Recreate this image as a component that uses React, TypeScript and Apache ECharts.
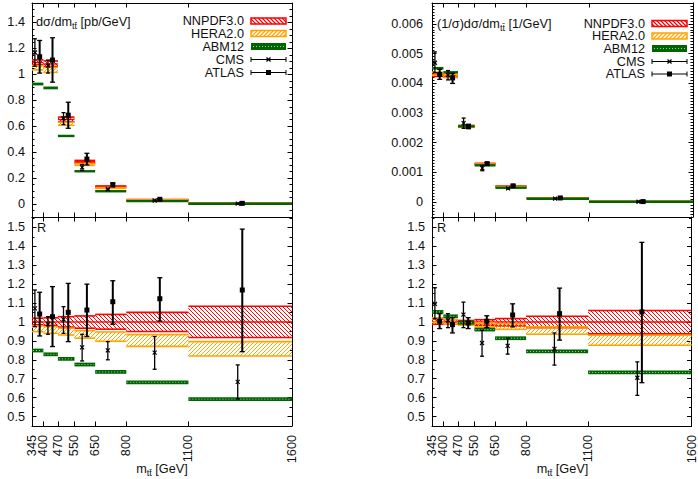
import React, { useEffect, useRef } from 'react';
import * as echarts from 'echarts';

const FONT = "'Liberation Sans', Arial, Helvetica, sans-serif";
const FS = 12.7;

// ---------- data ----------
const binEdges = [345, 400, 470, 550, 650, 800, 1100, 1600];
const xTickLabels = [345, 400, 470, 550, 650, 800, 1100, 1600];
const cmsMass = [359, 422, 497, 587, 711, 937, 1338];
const atlasMass = [382, 444, 520, 610, 735, 962, 1360];

const yTicksAbs = [0, 0.2, 0.4, 0.6, 0.8, 1, 1.2, 1.4];
const yTicksNorm = [0, 0.001, 0.002, 0.003, 0.004, 0.005, 0.006];
const yTicksRatio = [0.5, 0.6, 0.7, 0.8, 0.9, 1, 1.1, 1.2, 1.3, 1.4, 1.5];

// left column: dσ/dm [pb/GeV]; NNPDF3.0 central values, everything else as ratio R
const absCentral = [1.09, 1.08, 0.652, 0.326, 0.134, 0.0325, 0.0045];
const absNnpdfLo = [0.985, 0.982, 0.973, 0.967, 0.962, 0.95, 0.918];
const absNnpdfHi = [1.02, 1.022, 1.028, 1.032, 1.04, 1.051, 1.083];
const absHeraLo = [0.949, 0.94, 0.931, 0.914, 0.898, 0.871, 0.82];
const absHeraHi = [0.979, 0.975, 0.967, 0.954, 0.947, 0.933, 0.896];
const absAbmLo = [0.839, 0.819, 0.795, 0.765, 0.726, 0.671, 0.582];
const absAbmHi = [0.859, 0.839, 0.815, 0.785, 0.746, 0.691, 0.602];
const absCms = [1.072, 0.988, 1.014, 0.866, 0.85, 0.838, 0.683];
const absCmsLo = [0.975, 0.935, 0.94, 0.794, 0.8, 0.75, 0.593];
const absCmsHi = [1.169, 1.028, 1.081, 0.935, 0.896, 0.923, 0.773];
const absAtlas = [1.042, 1.028, 1.051, 1.063, 1.107, 1.123, 1.169];
const absAtlasLo = [0.926, 0.87, 0.896, 0.923, 0.988, 1.005, 0.843];
const absAtlasHi = [1.157, 1.187, 1.204, 1.2, 1.218, 1.234, 1.491];

// right column: (1/σ)dσ/dm [1/GeV]
const normCentral = [0.00428, 0.00424, 0.00256, 0.00129, 0.00053, 0.000135, 0.000018];
const normNnpdfLo = [0.988, 0.99, 0.992, 0.983, 0.979, 0.97, 0.937];
const normNnpdfHi = [1.016, 1.012, 1.008, 1.012, 1.018, 1.03, 1.061];
const normHeraLo = [0.998, 0.99, 0.983, 0.974, 0.961, 0.935, 0.877];
const normHeraHi = [1.022, 1.012, 1.001, 0.995, 0.991, 0.974, 0.93];
const normAbmLo = [1.043, 1.02, 0.986, 0.95, 0.904, 0.834, 0.723];
const normAbmHi = [1.063, 1.04, 1.006, 0.97, 0.924, 0.854, 0.743];
const normCms = [1.096, 1.009, 1.039, 0.889, 0.874, 0.858, 0.705];
const normCmsLo = [1.018, 0.97, 0.97, 0.819, 0.83, 0.772, 0.612];
const normCmsHi = [1.181, 1.044, 1.105, 0.956, 0.914, 0.942, 0.789];
const normAtlas = [1.004, 0.986, 0.995, 1.004, 1.037, 1.044, 1.053];
const normAtlasLo = [0.965, 0.942, 0.965, 0.97, 0.974, 0.904, 0.679];
const normAtlasHi = [1.044, 1.023, 1.023, 1.033, 1.096, 1.179, 1.421];

// ---------- styles ----------
const RED = '#ff0000';
const ORANGE = '#ffa500';
const GREEN = '#006400';
const GREEN_DOT = '#9fd49f';

function hatch(x0: number, y0: number, x1: number, y1: number, dir: number, s: number) {
  const segs: number[][] = [];
  if (x1 - x0 < 0.5 || y1 - y0 < 0.5) return segs;
  if (dir > 0) {
    const cMin = y0 - x1, cMax = y1 - x0;
    for (let k = Math.ceil(cMin / s); k * s <= cMax; k++) {
      const c = k * s;
      const xa = Math.max(x0, y0 - c), xb = Math.min(x1, y1 - c);
      if (xb > xa) segs.push([xa, xa + c, xb, xb + c]);
    }
  } else {
    const cMin = x0 + y0, cMax = x1 + y1;
    for (let k = Math.ceil(cMin / s); k * s <= cMax; k++) {
      const c = k * s;
      const xa = Math.max(x0, c - y1), xb = Math.min(x1, c - y0);
      if (xb > xa) segs.push([xa, c - xa, xb, c - xb]);
    }
  }
  return segs;
}

function hline(x1: number, x2: number, y: number, color: string, w: number, extra: any = {}) {
  return { type: 'line', shape: { x1, y1: y, x2, y2: y }, style: { stroke: color, lineWidth: w, ...extra } };
}

function bandRender(kind: string) {
  return (params: any, api: any) => {
    const x0 = api.value(0), x1 = api.value(1), lo = api.value(2), hi = api.value(3), mid = api.value(4);
    const pA = api.coord([x0, hi]);
    const pB = api.coord([x1, lo]);
    const px0 = pA[0], px1 = pB[0];
    let top = pA[1], bot = pB[1];
    const children: any[] = [];
    if (kind === 'abm') {
      if (bot - top < 2.4) {
        const c = (top + bot) / 2;
        top = c - 1.2; bot = c + 1.2;
      }
      children.push({ type: 'rect', shape: { x: px0, y: top, width: px1 - px0, height: bot - top }, style: { fill: GREEN } });
      if (bot - top > 3) children.push(hline(px0 + 1, px1 - 1, (top + bot) / 2, GREEN_DOT, 1, { lineDash: [1, 2] }));
      return { type: 'group', children };
    }
    const color = kind === 'nnpdf' ? RED : ORANGE;
    const dir = kind === 'nnpdf' ? 1 : -1;
    hatch(px0, top, px1, bot, dir, 4).forEach((s) => {
      children.push({ type: 'line', shape: { x1: s[0], y1: s[1], x2: s[2], y2: s[3] }, style: { stroke: color, lineWidth: 1 } });
    });
    children.push(hline(px0, px1, top, color, 1.6));
    children.push(hline(px0, px1, bot, color, 1.6));
    if (kind === 'nnpdf') {
      const pm = api.coord([x0, mid]);
      children.push(hline(px0, px1, pm[1], color, 1.4));
    }
    return { type: 'group', children };
  };
}

function cmsMarker(x: number, y: number) {
  return [
    { type: 'line', shape: { x1: x - 2, y1: y - 2, x2: x + 2, y2: y + 2 }, style: { stroke: '#000', lineWidth: 1.2 } },
    { type: 'line', shape: { x1: x - 2, y1: y + 2, x2: x + 2, y2: y - 2 }, style: { stroke: '#000', lineWidth: 1.2 } },
  ];
}
function atlasMarker(x: number, y: number) {
  return [{ type: 'rect', shape: { x: x - 2.5, y: y - 2.5, width: 5, height: 5 }, style: { fill: '#000' } }];
}

function pointRender(kind: string) {
  return (params: any, api: any) => {
    const x = api.value(0), y = api.value(1), lo = api.value(2), hi = api.value(3);
    const p = api.coord([x, y]);
    const pl = api.coord([x, lo]);
    const ph = api.coord([x, hi]);
    const w = kind === 'atlas' ? 2 : 1.3;
    const cap = kind === 'atlas' ? 2.5 : 2;
    const children: any[] = [
      { type: 'line', shape: { x1: p[0], y1: pl[1], x2: p[0], y2: ph[1] }, style: { stroke: '#000', lineWidth: w } },
      hline(p[0] - cap, p[0] + cap, pl[1], '#000', 1.3),
      hline(p[0] - cap, p[0] + cap, ph[1], '#000', 1.3),
      ...(kind === 'atlas' ? atlasMarker(p[0], p[1]) : cmsMarker(p[0], p[1])),
    ];
    return { type: 'group', children };
  };
}

function bandData(lo: number[], hi: number[], scale: number[] | null) {
  return lo.map((l, i) => {
    const s = scale ? scale[i] : 1;
    return [binEdges[i], binEdges[i + 1], l * s, hi[i] * s, s];
  });
}
function pointData(mass: number[], v: number[], lo: number[], hi: number[], scale: number[] | null) {
  return mass.map((m, i) => {
    const s = scale ? scale[i] : 1;
    return [m, v[i] * s, lo[i] * s, hi[i] * s];
  });
}

function steps(min: number, max: number, step: number) {
  const out: number[] = [];
  const k0 = Math.ceil(min / step - 1e-9);
  for (let k = k0; k * step <= max + 1e-12; k++) out.push(Math.round(k * step * 1e8) / 1e8);
  return out;
}

function buildOption() {
  const L = 32, W = 260, R0 = 432, RW = 261;
  const panels = [
    { grid: { left: L, top: 3, width: W, height: 214 }, ymin: -0.1, ymax: 1.55, majors: yTicksAbs, minor: 0.05, margin: 7, bottomLabels: false,
      scale: absCentral, d: 'abs' },
    { grid: { left: L, top: 217, width: W, height: 209 }, ymin: 0.45, ymax: 1.555, majors: yTicksRatio, minor: 0.05, margin: 7, bottomLabels: true,
      scale: null, d: 'abs' },
    { grid: { left: R0, top: 3, width: RW, height: 214 }, ymin: -0.0005, ymax: 0.0067, majors: yTicksNorm, minor: 0.0001, margin: 9, bottomLabels: false,
      scale: normCentral, d: 'norm' },
    { grid: { left: R0, top: 217, width: RW, height: 209 }, ymin: 0.45, ymax: 1.555, majors: yTicksRatio, minor: 0.05, margin: 7, bottomLabels: true,
      scale: null, d: 'norm' },
  ];

  const grids: any[] = [];
  const xAxes: any[] = [];
  const extraX: any[] = [];
  const yAxes: any[] = [];
  const series: any[] = [];

  const axisLine = { show: true, onZero: false, lineStyle: { color: '#000', width: 1 } };
  const xLabelStyle = {
    rotate: 90, margin: 9, color: '#111', fontSize: FS, fontFamily: FONT,
    showMinLabel: true, showMaxLabel: true, hideOverlap: false,
    formatter: (v: number) => String(v),
  };

  panels.forEach((p, i) => {
    grids.push({ ...p.grid, containLabel: false, show: false });
    ['bottom', 'top'].forEach((pos) => {
      const labels = pos === 'bottom' && p.bottomLabels;
      xAxes.push({
        type: 'value', gridIndex: i, position: pos, min: 345, max: 1600,
        axisLine,
        axisTick: { show: true, inside: true, length: 4.5, customValues: binEdges, lineStyle: { color: '#000', width: 1 } },
        axisLabel: { show: labels, customValues: xTickLabels.slice(1), ...xLabelStyle },
        splitLine: { show: false },
        minorTick: { show: false },
      });
    });
    if (p.bottomLabels) {
      // first tick label on its own axis so that it is not dropped by overlap handling
      extraX.push({
        type: 'value', gridIndex: i, position: 'bottom', min: 345, max: 1600,
        axisLine: { show: false, onZero: false },
        axisTick: { show: false },
        axisLabel: { show: true, customValues: xTickLabels.slice(0, 1), ...xLabelStyle },
        splitLine: { show: false },
      });
    }
    const minors = steps(p.ymin, p.ymax, p.minor);
    ['left', 'right'].forEach((pos) => {
      yAxes.push({
        type: 'value', gridIndex: i, position: pos, min: p.ymin, max: p.ymax,
        axisLine,
        axisTick: { show: true, inside: true, length: 4.5, customValues: p.majors, lineStyle: { color: '#000', width: 1 } },
        axisLabel: {
          show: pos === 'left', customValues: p.majors, margin: p.margin, color: '#111', fontSize: FS, fontFamily: FONT,
          showMinLabel: true, showMaxLabel: true, hideOverlap: false,
          formatter: (v: number) => String(v),
        },
        splitLine: { show: false },
      });
      yAxes.push({
        type: 'value', gridIndex: i, position: pos, min: p.ymin, max: p.ymax,
        axisLine: { show: false, onZero: false },
        axisTick: { show: true, inside: true, length: 2.5, customValues: minors, lineStyle: { color: '#000', width: 1 } },
        axisLabel: { show: false },
        splitLine: { show: false },
      });
    });

    const isAbs = p.d === 'abs';
    const nLo = isAbs ? absNnpdfLo : normNnpdfLo, nHi = isAbs ? absNnpdfHi : normNnpdfHi;
    const hLo = isAbs ? absHeraLo : normHeraLo, hHi = isAbs ? absHeraHi : normHeraHi;
    const aLo = isAbs ? absAbmLo : normAbmLo, aHi = isAbs ? absAbmHi : normAbmHi;
    const cV = isAbs ? absCms : normCms, cLo = isAbs ? absCmsLo : normCmsLo, cHi = isAbs ? absCmsHi : normCmsHi;
    const tV = isAbs ? absAtlas : normAtlas, tLo = isAbs ? absAtlasLo : normAtlasLo, tHi = isAbs ? absAtlasHi : normAtlasHi;
    const common = { type: 'custom', coordinateSystem: 'cartesian2d', xAxisIndex: 2 * i, yAxisIndex: 4 * i, silent: true, animation: false };
    series.push({ ...common, name: 'NNPDF3.0', renderItem: bandRender('nnpdf'), data: bandData(nLo, nHi, p.scale), z: 2 });
    series.push({ ...common, name: 'HERA2.0', renderItem: bandRender('hera'), data: bandData(hLo, hHi, p.scale), z: 3 });
    series.push({ ...common, name: 'ABM12', renderItem: bandRender('abm'), data: bandData(aLo, aHi, p.scale), z: 4 });
    series.push({ ...common, name: 'CMS', renderItem: pointRender('cms'), data: pointData(cmsMass, cV, cLo, cHi, p.scale), z: 5 });
    series.push({ ...common, name: 'ATLAS', renderItem: pointRender('atlas'), data: pointData(atlasMass, tV, tLo, tHi, p.scale), z: 6 });
  });

  // ---------- graphic: legends, titles ----------
  const g: any[] = [];
  const txt = (x: number, y: number, text: string, align = 'left') => ({
    type: 'text', x, y, silent: true,
    style: { text, fill: '#111', fontSize: FS, fontFamily: FONT, align, verticalAlign: 'middle' },
  });
  const richTxt = (x: number, y: number, text: string, align = 'left') => ({
    type: 'text', x, y, silent: true,
    style: {
      text, align, verticalAlign: 'middle', fill: '#111', fontFamily: FONT,
      rich: {
        m: { fontSize: FS, fontFamily: FONT, fill: '#111', lineHeight: 16 },
        s: { fontSize: 9, fontFamily: FONT, fill: '#111', lineHeight: 12, padding: [8, 0, 0, 0] },
      },
    },
  });

  const legend = (sx0: number, sx1: number, rows: number[]) => {
    const tx = sx0 - 7;
    const names = ['NNPDF3.0', 'HERA2.0', 'ABM12', 'CMS', 'ATLAS'];
    names.forEach((n, k) => g.push(txt(tx, rows[k], n, 'right')));
    const h = 3;
    // NNPDF
    let y = rows[0];
    hatch(sx0, y - h, sx1, y + h, 1, 4).forEach((s) =>
      g.push({ type: 'line', silent: true, shape: { x1: s[0], y1: s[1], x2: s[2], y2: s[3] }, style: { stroke: RED, lineWidth: 1.2 } }));
    g.push({ type: 'rect', silent: true, shape: { x: sx0, y: y - h, width: sx1 - sx0, height: 2 * h }, style: { fill: 'none', stroke: RED, lineWidth: 1.5 } });
    // HERA
    y = rows[1];
    hatch(sx0, y - h, sx1, y + h, -1, 4).forEach((s) =>
      g.push({ type: 'line', silent: true, shape: { x1: s[0], y1: s[1], x2: s[2], y2: s[3] }, style: { stroke: ORANGE, lineWidth: 1.2 } }));
    g.push({ type: 'rect', silent: true, shape: { x: sx0, y: y - h, width: sx1 - sx0, height: 2 * h }, style: { fill: 'none', stroke: ORANGE, lineWidth: 1.5 } });
    // ABM
    y = rows[2];
    g.push({ type: 'rect', silent: true, shape: { x: sx0, y: y - h - 0.5, width: sx1 - sx0, height: 2 * h + 1 }, style: { fill: GREEN } });
    g.push({ type: 'line', silent: true, shape: { x1: sx0 + 2, y1: y, x2: sx1 - 2, y2: y }, style: { stroke: GREEN_DOT, lineWidth: 1, lineDash: [1, 2] } });
    // CMS & ATLAS
    [3, 4].forEach((k) => {
      const yy = rows[k];
      const mx = (sx0 + sx1) / 2;
      g.push({ type: 'line', silent: true, shape: { x1: sx0, y1: yy, x2: sx1, y2: yy }, style: { stroke: '#000', lineWidth: 1 } });
      g.push({ type: 'line', silent: true, shape: { x1: sx0, y1: yy - 2.5, x2: sx0, y2: yy + 2.5 }, style: { stroke: '#000', lineWidth: 1 } });
      g.push({ type: 'line', silent: true, shape: { x1: sx1, y1: yy - 2.5, x2: sx1, y2: yy + 2.5 }, style: { stroke: '#000', lineWidth: 1 } });
      const mk = k === 3 ? cmsMarker(mx, yy) : atlasMarker(mx, yy);
      mk.forEach((m: any) => g.push({ ...m, silent: true }));
    });
  };
  legend(251, 286, [21, 33.5, 46.5, 59.5, 72.5]);
  legend(652, 687, [23.5, 36, 48.5, 61.5, 74]);

  g.push(richTxt(36, 22, '{m|dσ/dm}{s|tt\u0304}{m| [pb/GeV]}'));
  g.push(richTxt(437, 23.5, '{m|(1/σ)dσ/dm}{s|tt\u0304}{m| [1/GeV]}'));
  g.push(txt(37, 227.5, 'R'));
  g.push(txt(437, 227.5, 'R'));
  g.push(richTxt(162, 469, '{m|m}{s|tt\u0304}{m| [GeV]}', 'center'));
  g.push(richTxt(562.5, 469, '{m|m}{s|tt\u0304}{m| [GeV]}', 'center'));

  return {
    animation: false,
    backgroundColor: '#ffffff',
    textStyle: { fontFamily: FONT },
    grid: grids,
    xAxis: [...xAxes, ...extraX],
    yAxis: yAxes,
    series,
    graphic: { elements: g },
  };
}

export default function App() {
  const ref = useRef<HTMLDivElement>(null);
  useEffect(() => {
    if (!ref.current) return;
    const chart = echarts.init(ref.current, null, { renderer: 'svg' });
    chart.setOption(buildOption() as any);
    return () => chart.dispose();
  }, []);
  return (
    <div
      ref={ref}
      style={{ position: 'absolute', left: 0, top: 0, width: 698, height: 479, background: '#fff' }}
    />
  );
}
